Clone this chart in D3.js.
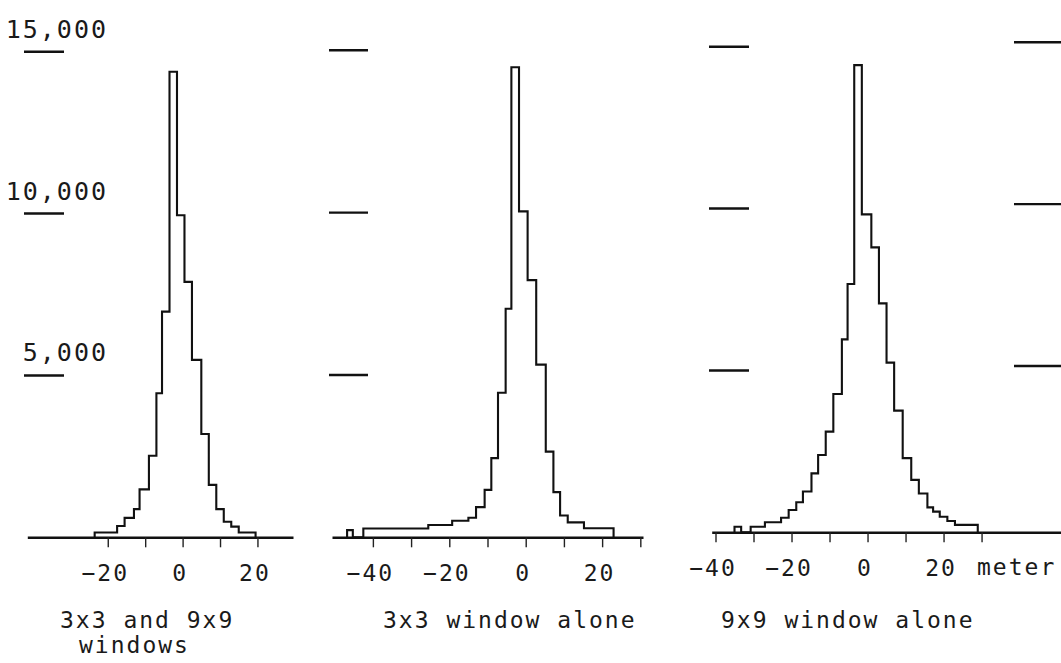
<!DOCTYPE html>
<html>
<head>
<meta charset="utf-8">
<script src="https://cdn.jsdelivr.net/npm/d3@7"></script>
<style>
  html, body { margin: 0; padding: 0; background: #fff; }
  svg { display: block; }
  text { font-family: "DejaVu Sans Mono", monospace; fill: #1a1a1a; }
</style>
</head>
<body>
<script>
// ---------------- DATA ----------------
// Panel 1: 3x3 and 9x9 windows (bin edges in meters, counts per bin)
const edges1 = [-23.5, -17.5, -15.5, -13, -11.5, -9, -7, -5.5, -3.5, -1.5, 0.5, 2.5, 5, 7, 9, 11, 13, 15, 19.5];
const counts1 = [150, 350, 600, 870, 1480, 2520, 4450, 6970, 14380, 9950, 7890, 5480, 3190, 1620, 870, 480, 330, 150];

// Panel 2: 3x3 window alone
const edges2 = [-46.75, -45.25, -42.5, -25.5, -19.25, -15, -13, -10.75, -9, -7.25, -5.25, -3.75, -1.75, 0.5, 2.75, 5.25, 7.25, 9, 11, 15.25, 23];
const counts2 = [220, 0, 270, 380, 510, 600, 930, 1460, 2440, 4450, 7040, 14480, 10040, 7920, 5320, 2640, 1390, 670, 460, 280];

// Panel 3: 9x9 window alone
const edges3 = [-35, -33.25, -30.75, -27, -22.75, -20.75, -18.75, -17, -14.75, -13, -11, -9, -6.75, -5.25, -3.5, -1.5, 1, 3, 5, 7, 9.25, 11.5, 13.5, 15.75, 17.25, 19, 21, 23, 29];
const counts3 = [170, 0, 170, 310, 450, 690, 930, 1260, 1820, 2390, 3110, 4270, 5960, 7670, 14430, 9820, 8800, 7070, 5240, 3760, 2290, 1620, 1200, 770, 640, 480, 350, 230];

// Axis extents (meters) and ticks
const xDomain1 = [-41.5, 29.5];
const xDomain2 = [-50.7, 30.7];
const xDomain3 = [-41, 50.9];
const xTicks1 = [-20, -10, 0, 10, 20];
const xTicks2 = [-40, -30, -20, -10, 0, 10, 20, 30];
const xTicks3 = [-40, -30, -20, -10, 0, 10, 20, 30];
const xLabels1 = [-20, 0, 20];
const xLabels2 = [-40, -20, 0, 20];
const xLabels3 = [-40, -20, 0, 20];

const yDomain = [0, 15000];
const yTicks = [5000, 10000, 15000];

const titles1 = ["3x3 and 9x9", "windows"];
const titles2 = ["3x3 window alone"];
const titles3 = ["9x9 window alone"];
const unitLabel = "meter";

// ---------------- LAYOUT ----------------
const W = 1061, H = 663;
const svg = d3.select("body").append("svg").attr("width", W).attr("height", H);
svg.append("rect").attr("width", W).attr("height", H).attr("fill", "#fff");

const panels = [
  { edges: edges1, counts: counts1, xDom: xDomain1, xRange: [27.3, 293], base: 537.3, top: 51.7,
    ticks: xTicks1, labels: xLabels1, yTickX: [[24, 64]], yLabels: true,
    titles: titles1, titleX: [60, 79], titleY: [628, 653] },
  { edges: edges2, counts: counts2, xDom: xDomain2, xRange: [332, 643], base: 537.3, top: 50.3,
    ticks: xTicks2, labels: xLabels2, yTickX: [[329, 368]], yLabels: false,
    titles: titles2, titleX: [383], titleY: [628] },
  { edges: edges3, counts: counts3, xDom: xDomain3, xRange: [711.7, 1061], base: 532.3, top: 46.7,
    ticks: xTicks3, labels: xLabels3, yTickX: [[709, 749]], yLabels: false,
    titles: titles3, titleX: [721], titleY: [628], unit: true }
];

const fmtTick = d => (d < 0 ? "\u2212" + Math.abs(d) : String(d));

panels.forEach((p, pi) => {
  const g = svg.append("g");
  const x = d3.scaleLinear().domain(p.xDom).range(p.xRange);
  const y = d3.scaleLinear().domain(yDomain).range([p.base, p.top]);

  // y reference marks
  p.yTickX.forEach(([x0, x1]) => {
    g.selectAll(null).data(yTicks).enter().append("line")
      .attr("x1", x0).attr("x2", x1)
      .attr("y1", d => y(d)).attr("y2", d => y(d))
      .attr("stroke", "#111").attr("stroke-width", 2.4);
  });

  if (p.yLabels) {
    g.selectAll(null).data(yTicks).enter().append("text")
      .attr("x", 108).attr("y", d => y(d) - 14)
      .attr("text-anchor", "end")
      .style("font-size", "25px").style("letter-spacing", "2px")
      .text(d => d3.format(",")(d));
  }

  // x axis
  const axis = d3.axisBottom(x)
    .tickValues(p.ticks)
    .tickSize(10).tickSizeOuter(0)
    .tickFormat(d => p.labels.includes(d) ? fmtTick(d) : "");
  const ag = g.append("g").attr("transform", `translate(0,${p.base})`).call(axis);
  ag.select(".domain").attr("stroke", "#111").attr("stroke-width", 2.6);
  ag.selectAll(".tick line").attr("stroke", "#222").attr("stroke-width", 1.4);
  ag.selectAll(".tick text")
    .attr("y", 44).attr("dy", 0).attr("dx", -3)
    .attr("fill", "#1a1a1a")
    .style("font-family", "'DejaVu Sans Mono', monospace")
    .style("font-size", "23px").style("letter-spacing", "2px");

  // histogram outline
  const pts = [[p.edges[0], 0]];
  p.counts.forEach((c, i) => pts.push([p.edges[i], c]));
  pts.push([p.edges[p.edges.length - 1], 0]);
  const line = d3.line().x(d => x(d[0])).y(d => y(d[1])).curve(d3.curveStepAfter);
  g.append("path").attr("d", line(pts))
    .attr("fill", "none").attr("stroke", "#111").attr("stroke-width", 2.1)
    .attr("stroke-linejoin", "miter");

  // titles
  p.titles.forEach((t, i) => {
    g.append("text").attr("x", p.titleX[i]).attr("y", p.titleY[i])
      .style("font-size", "23px").style("letter-spacing", "2px")
      .text(t);
  });

  if (p.unit) {
    // right-side reference marks
    const yR = d3.scaleLinear().domain(yDomain).range([527.9, 42.3]);
    g.selectAll(null).data(yTicks).enter().append("line")
      .attr("x1", 1014).attr("x2", 1061)
      .attr("y1", d => yR(d)).attr("y2", d => yR(d))
      .attr("stroke", "#111").attr("stroke-width", 2.4);
    g.append("text").attr("x", 977).attr("y", p.base + 43)
      .style("font-size", "23px").style("letter-spacing", "2px")
      .text(unitLabel);
  }
});
</script>
</body>
</html>
